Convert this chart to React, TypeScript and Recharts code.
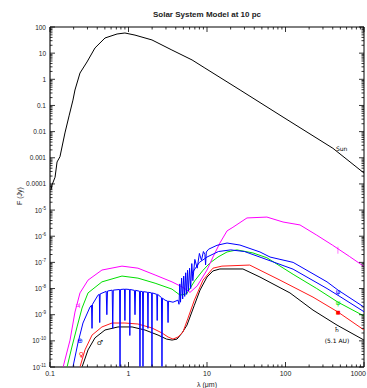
import { LineChart, Line, XAxis, YAxis, ReferenceDot, ReferenceArea } from "recharts";

// wavelength (um) / flux (Jy) pairs
const SUN: [number, number][] = [
  [0.103, 5.9e-5], [0.106, 9.1e-5], [0.116, 1.8e-4], [0.123, 6.9e-4],
  [0.134, 1.1e-3], [0.155, 8.9e-3], [0.175, 0.04], [0.196, 0.16],
  [0.208, 0.39], [0.241, 1.74], [0.296, 4.6], [0.374, 15.8], [0.502, 38],
  [0.715, 54], [0.9, 59], [1.21, 49], [1.99, 32], [3.57, 13.2], [6.45, 5.5],
  [9.4, 2.7], [26.4, 0.39], [93, 0.036], [402, 2.3e-3], [1000, 2.6e-4],
];

const JUPITER: [number, number][] = [
  [0.147, 1e-11], [0.18, 1.07e-10], [0.208, 1.26e-9], [0.241, 6.8e-9],
  [0.305, 2.1e-8], [0.459, 5.1e-8], [0.826, 7.2e-8], [1.32, 6.0e-8],
  [2.18, 3.3e-8], [3.58, 1.8e-8], [4.81, 1.15e-8], [5.56, 8.7e-9],
  [6.07, 7.1e-9], [7.5, 1.26e-8], [10, 5.1e-8], [11.9, 1.6e-7], [14.6, 5.5e-7],
  [18, 1.6e-6], [21.4, 2.2e-6], [32.3, 5.0e-6], [58, 5.4e-6], [93, 3.5e-6],
  [153, 2.7e-6], [250, 1.1e-6], [400, 4.5e-7], [650, 1.7e-7], [1000, 7e-8],
];

const VENUS: [number, number][] = [
  [0.165, 1e-11], [0.19, 5.8e-11], [0.221, 3.4e-10], [0.256, 1.8e-9],
  [0.305, 6.8e-9], [0.459, 1.8e-8], [0.826, 3.0e-8], [1.32, 2.5e-8],
  [2.18, 1.6e-8], [3.58, 9.5e-9], [4.53, 5.6e-9], [5.5, 6.3e-9], [7.0, 2e-8],
  [8.9, 5e-8], [10.9, 9.5e-8], [13.8, 1.6e-7], [18, 2.5e-7], [24, 3.0e-7],
  [38.5, 2.3e-7], [58, 1.5e-7], [125, 3.5e-8], [250, 1e-8], [467, 3.0e-9],
  [1000, 8.9e-10],
];

const EARTH: [number, number][] = [
  [0.196, 1e-11], [0.227, 8.3e-11], [0.263, 4.8e-10], [0.323, 1.95e-9],
  [0.338, 2.3e-9], [0.343, 3e-10], [0.348, 2.5e-9], [0.409, 5.6e-9],
  [0.425, 6e-9], [0.43, 5e-10], [0.435, 6.2e-9], [0.52, 7.8e-9], [0.53, 1e-9],
  [0.54, 8e-9], [0.62, 8.7e-9], [0.63, 3e-10], [0.64, 8.7e-9], [0.77, 9.2e-9],
  [0.78, 1e-11], [0.79, 9.2e-9], [0.89, 9.5e-9], [0.9, 6e-10], [0.91, 9.5e-9],
  [1.03, 9.2e-9], [1.04, 1.6e-10], [1.05, 9.2e-9], [1.19, 8.5e-9], [1.21, 1e-9],
  [1.23, 8.5e-9], [1.38, 7.9e-9], [1.4, 1e-11], [1.42, 7.9e-9], [1.51, 7.6e-9],
  [1.53, 1e-11], [1.55, 7.6e-9], [1.75, 7.2e-9], [1.77, 3e-10], [1.79, 7.2e-9],
  [1.97, 6.8e-9], [1.99, 1e-11], [2.01, 6.8e-9], [2.29, 6e-9], [2.32, 6e-10],
  [2.35, 6e-9], [2.63, 4.5e-9], [2.67, 1e-11], [2.71, 4.3e-9], [2.92, 3.6e-9],
  [3.15, 3.3e-9], [3.19, 5e-10], [3.23, 3.3e-9], [3.69, 3e-9], [4.27, 3.6e-9],
  [4.4, 2.5e-9], [4.5, 1.5e-8], [4.6, 3e-9], [4.75, 2.5e-8], [4.9, 4e-9],
  [5.05, 3e-8], [5.2, 5e-9], [5.35, 4e-8], [5.5, 6e-9], [5.65, 5e-8], [5.8, 8e-9],
  [6.0, 6e-8], [6.2, 1e-8], [6.4, 9e-8], [6.6, 2e-8], [7.0, 1.3e-7], [7.5, 6e-8],
  [8.0, 2.2e-7], [8.5, 1.2e-7], [9.0, 2.6e-7], [9.4, 2e-7], [9.6, 8e-8],
  [9.8, 2.5e-7], [10.5, 3.2e-7], [13.4, 4.5e-7], [18, 5.5e-7], [26.3, 4.6e-7],
  [47.3, 2.5e-7], [63.5, 1.6e-7], [125, 1.0e-7], [338, 1.8e-8], [467, 8.7e-9],
  [1000, 1.95e-9],
];

const EARTH_LOW: [number, number][] = [
  [6.5, 4e-8], [8, 1e-7], [10, 1.6e-7], [14, 2.6e-7], [20, 3e-7], [30, 2.6e-7],
  [50, 1.5e-7], [125, 5.5e-8], [338, 1e-8], [467, 5.5e-9], [1000, 1.3e-9],
];

const MARS: [number, number][] = [
  [0.241, 1e-11], [0.279, 4.5e-11], [0.343, 1.66e-10], [0.459, 3.4e-10],
  [0.617, 4.8e-10], [0.902, 4.8e-10], [1.32, 4.4e-10], [1.99, 3.1e-10],
  [2.67, 2.0e-10], [3.19, 1.4e-10], [3.69, 1.17e-10], [4.27, 1.4e-10],
  [4.95, 2.2e-10], [5.73, 7.4e-10], [6.9, 3.6e-9], [8.9, 2.1e-8], [11.9, 6.0e-8],
  [15.5, 7.2e-8], [35, 7.9e-8], [85, 2.1e-8], [224, 4.7e-9], [467, 1.26e-9],
  [1000, 2.6e-10],
];

const ZODI: [number, number][] = [
  [0.256, 1e-11], [0.305, 4.5e-11], [0.374, 1.3e-10], [0.502, 2.6e-10],
  [0.735, 3.4e-10], [1.11, 3.4e-10], [1.62, 2.6e-10], [2.38, 1.66e-10],
  [3.05, 1.17e-10], [3.58, 1.07e-10], [4.15, 1.17e-10], [4.81, 2.0e-10],
  [5.56, 4.0e-10], [6.9, 2.3e-9], [8.15, 8.7e-9], [10, 2.75e-8], [11.9, 4.7e-8],
  [14.6, 5.6e-8], [28.7, 5.6e-8], [47.3, 2.75e-8], [114, 6.8e-9], [224, 1.5e-9],
  [453, 4.0e-10], [1000, 1.07e-10],
];

const X_MAJOR = [0.1, 1, 10, 100, 1000];
const Y_MAJOR = [1e-11, 1e-10, 1e-9, 1e-8, 1e-7, 1e-6, 1e-5, 1e-4, 1e-3, 0.01, 0.1, 1, 10, 100];

const LABELS = [
  { text: "Sun", x: 520, y: 2.1e-3, color: "#000", size: 6 },
  { text: "♃", x: 0.227, y: 2.3e-9, color: "#ff00ff", size: 7 },
  { text: "⊕", x: 0.241, y: 1e-10, color: "#0000ff", size: 7 },
  { text: "♀", x: 0.25, y: 2.9e-11, color: "#ff0000", size: 7 },
  { text: "♂", x: 0.433, y: 8.3e-11, color: "#000", size: 7 },
  { text: "|", x: 467, y: 3e-7, color: "#ff00ff", size: 7 },
  { text: "ψ", x: 467, y: 7.4e-9, color: "#0000ff", size: 7 },
  { text: "ψ", x: 467, y: 3e-9, color: "#00dd00", size: 7 },
  { text: "■", x: 467, y: 1.26e-9, color: "#ff0000", size: 5 },
  { text: "♄", x: 453, y: 2.8e-10, color: "#000", size: 7 },
  { text: "(5.1 AU)", x: 453, y: 1e-10, color: "#000", size: 6 },
];

// minor tick positions, one per 2..9 multiple of each decade
const xTicks = X_MAJOR.slice(0, -1).flatMap((d) => [1, 2, 3, 4, 5, 6, 7, 8, 9].map((m) => m * d)).concat([1000]);
const yTicks = Y_MAJOR.slice(0, -1).flatMap((d) => [1, 2, 3, 4, 5, 6, 7, 8, 9].map((m) => m * d)).concat([100]);

const toXY = (pts: [number, number][]) => pts.map(([x, y]) => ({ x, y }));

const FONT = "'Liberation Sans', sans-serif";

function isDecade(v: number) {
  const l = Math.log10(v);
  return Math.abs(l - Math.round(l)) < 1e-6;
}

function fmtX(v: number) {
  return String(Math.round(v * 10) / 10);
}

function XTick(props: any) {
  const { x, y, payload, side } = props;
  const major = isDecade(payload.value);
  const len = major ? 5 : 2.5;
  const dir = side === "bottom" ? -1 : 1;
  const last = payload.value >= 1000;
  return (
    <g>
      <line x1={x} x2={x} y1={y} y2={y + dir * len} stroke="#000" strokeWidth={0.8} />
      {side === "bottom" && major && (
        <text x={last ? x + 2 : x} y={y + 9} textAnchor={last ? "end" : "middle"} fontSize={7} fontFamily={FONT} fill="#222">
          {fmtX(payload.value)}
        </text>
      )}
    </g>
  );
}

function YTick(props: any) {
  const { x, y, payload, side } = props;
  const v = payload.value;
  const major = isDecade(v);
  const len = major ? 5 : 2.5;
  const dir = side === "left" ? 1 : -1;
  const exp = Math.round(Math.log10(v));
  return (
    <g>
      <line x1={x} x2={x + dir * len} y1={y} y2={y} stroke="#000" strokeWidth={0.8} />
      {side === "left" && major && (
        <text x={x - 4} y={y + 2.5} textAnchor="end" fontSize={6.5} fontFamily={FONT} fill="#222">
          {exp >= -4 ? (
            String(v)
          ) : (
            <>
              10<tspan dy={-3} fontSize={4.5}>{exp}</tspan>
            </>
          )}
        </text>
      )}
    </g>
  );
}

export default function App() {
  const line = (pts: [number, number][], color: string, w = 1) => (
    <Line
      data={toXY(pts)}
      dataKey="y"
      xAxisId="b"
      yAxisId="l"
      type="linear"
      stroke={color}
      strokeWidth={w}
      dot={false}
      isAnimationActive={false}
    />
  );
  return (
    <div style={{ position: "absolute", left: 0, top: 0, width: 367, height: 388, background: "#fff" }}>
      <div
        style={{
          position: "absolute",
          top: 10,
          left: 50,
          width: 314,
          textAlign: "center",
          fontFamily: FONT,
          fontSize: 8,
          fontWeight: "bold",
          color: "#222",
        }}
      >
        Solar System Model at 10 pc
      </div>
      <LineChart width={367} height={388} margin={{ top: 26, right: 2, bottom: 0, left: 0 }}>
        <XAxis
          xAxisId="b"
          dataKey="x"
          type="number"
          scale="log"
          domain={[0.1, 1000]}
          allowDataOverflow
          ticks={xTicks}
          interval={0}
          tickSize={0}
          tickMargin={0}
          tickLine={false}
          height={21}
          tick={(p: any) => <XTick {...p} side="bottom" />}
          label={{ value: "λ (μm)", position: "insideBottom", offset: 1, fontSize: 7, fontFamily: FONT, fill: "#222" }}
        />
        <XAxis
          xAxisId="t"
          orientation="top"
          dataKey="x"
          type="number"
          scale="log"
          domain={[0.1, 1000]}
          allowDataOverflow
          ticks={xTicks}
          interval={0}
          tickSize={0}
          tickMargin={0}
          tickLine={false}
          axisLine={false}
          height={1}
          tick={(p: any) => <XTick {...p} side="top" />}
        />
        <YAxis
          yAxisId="l"
          type="number"
          scale="log"
          domain={[1e-11, 100]}
          allowDataOverflow
          ticks={yTicks}
          interval={0}
          tickSize={0}
          tickMargin={0}
          tickLine={false}
          width={50}
          tick={(p: any) => <YTick {...p} side="left" />}
          label={{ value: "F (Jy)", angle: -90, position: "insideLeft", offset: 20, fontSize: 7, fontFamily: FONT, fill: "#222", dy: 8 }}
        />
        <YAxis
          yAxisId="r"
          orientation="right"
          type="number"
          scale="log"
          domain={[1e-11, 100]}
          allowDataOverflow
          ticks={yTicks}
          interval={0}
          tickSize={0}
          tickMargin={0}
          tickLine={false}
          axisLine={false}
          width={1}
          tick={(p: any) => <YTick {...p} side="right" />}
        />
        <ReferenceArea
          xAxisId="b"
          yAxisId="l"
          x1={0.1}
          x2={1000}
          y1={1e-11}
          y2={100}
          fill="none"
          fillOpacity={0}
          stroke="#000"
          strokeWidth={1}
          ifOverflow="visible"
        />
        {line(SUN, "#000")}
        {line(ZODI, "#000")}
        {line(MARS, "#ff1a1a")}
        {line(VENUS, "#00e000")}
        {line(JUPITER, "#ff00ff")}
        {line(EARTH_LOW, "#0000ff")}
        {line(EARTH, "#0000ff")}
        {LABELS.map((l, i) => (
          <ReferenceDot
            key={i}
            xAxisId="b"
            yAxisId="l"
            x={l.x}
            y={l.y}
            r={0}
            ifOverflow="visible"
            label={{ value: l.text, position: "center", fill: l.color, fontSize: l.size, fontFamily: "'DejaVu Sans', sans-serif" }}
          />
        ))}
      </LineChart>
    </div>
  );
}
